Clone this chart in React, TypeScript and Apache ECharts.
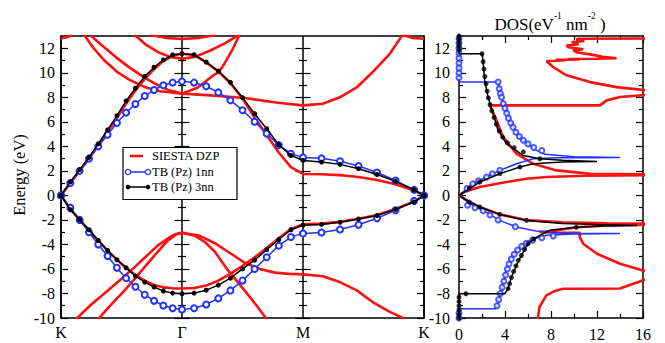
import React, { useEffect, useRef } from "react";
import * as echarts from "echarts";

const FONT = '"Liberation Serif", "DejaVu Serif", serif';
const RED = "#ff1010";
const BLUE = "#2233ff";
const BLACK = "#000000";

// ---- tick labels ----
const kLabels = ["K", "Γ", "M", "K"];
const yMajor = [-10, -8, -6, -4, -2, 0, 2, 4, 6, 8, 10, 12];
const yMinor = [-9, -7, -5, -3, -1, 1, 3, 5, 7, 9, 11];
const dosMajor = [0, 4, 8, 12, 16];
const dosMinor = [2, 6, 10, 14];

// ---- k path sample positions (K=0, Γ=1, M=2, K=3) ----
const kPath = [0, 0.077, 0.154, 0.231, 0.308, 0.385, 0.462, 0.538, 0.615, 0.692, 0.769, 0.846, 0.923, 1,
  1.1, 1.2, 1.3, 1.4, 1.5, 1.6, 1.7, 1.8, 1.9, 2,
  2.153, 2.306, 2.459, 2.612, 2.765, 2.918, 3];

// ---- TB bands (eV) ----
const tb1Up = [0, 1.0, 2.0, 3.0, 4.0, 4.95, 5.9, 6.75, 7.45, 8.1, 8.6, 8.98, 9.2, 9.3,
  9.2, 8.9, 8.4, 7.75, 6.95, 6.0, 5.05, 4.1, 3.4, 3.1,
  3.02, 2.78, 2.4, 1.87, 1.21, 0.45, 0];
const tb1Low = [0, -1.0, -2.0, -3.0, -4.0, -4.95, -5.9, -6.75, -7.45, -8.1, -8.6, -8.98, -9.2, -9.3,
  -9.2, -8.9, -8.4, -7.75, -6.95, -6.0, -5.05, -4.1, -3.4, -3.1,
  -3.02, -2.78, -2.4, -1.87, -1.21, -0.45, 0];
const tb3Up = [0, 1.1, 2.1, 3.1, 4.2, 5.35, 6.5, 7.7, 8.75, 9.7, 10.45, 11.05, 11.45, 11.55,
  11.47, 10.87, 10.14, 9.22, 7.97, 6.66, 5.44, 4.13, 3.26, 2.85,
  2.72, 2.53, 2.18, 1.71, 1.14, 0.46, 0];
const tb3Low = [0, -1.17, -1.98, -2.8, -3.67, -4.49, -5.25, -5.9, -6.58, -7.07, -7.48, -7.8, -7.97, -8.02,
  -7.97, -7.73, -7.32, -6.75, -6.0, -5.28, -4.43, -3.6, -2.8, -2.43,
  -2.37, -2.19, -1.92, -1.64, -1.14, -0.54, 0];

// ---- SIESTA bands ----
const redPiUp = [0, 1.0, 2.0, 3.0, 4.05, 5.15, 6.3, 7.5, 8.55, 9.5, 10.3, 10.95, 11.4, 11.55,
  11.45, 10.85, 10.1, 9.15, 7.9, 6.35, 4.9, 3.5, 2.3, 1.75,
  1.72, 1.65, 1.5, 1.25, 0.9, 0.4, 0];
const redPiLow = [0, -1.1, -2.0, -2.85, -3.7, -4.5, -5.25, -5.9, -6.5, -6.95, -7.3, -7.5, -7.58, -7.6,
  -7.55, -7.35, -6.95, -6.4, -5.75, -5.05, -4.3, -3.5, -2.75, -2.35,
  -2.3, -2.15, -1.9, -1.6, -1.1, -0.5, 0];
const redSigmaA = [[0.124, -10.1], [0.25, -8.9], [0.388, -7.75], [0.5, -6.8], [0.609, -5.85], [0.7, -5.0],
  [0.801, -4.08], [0.9, -3.4], [0.95, -3.15], [1, -3.05], [1.148, -3.3], [1.272, -3.9], [1.396, -4.7],
  [1.519, -5.5], [1.643, -6.0], [1.767, -6.3], [1.891, -6.4], [2, -6.44], [2.164, -6.6], [2.304, -7.07],
  [2.444, -7.75], [2.576, -8.7], [2.717, -9.5], [2.816, -9.95], [2.84, -10.1]];
const redSigmaB = [[0.306, -10.1], [0.42, -8.85], [0.526, -7.75], [0.61, -6.8], [0.691, -5.85], [0.79, -4.7],
  [0.884, -3.67], [0.95, -3.2], [1, -3.05], [1.107, -3.3], [1.189, -3.8], [1.272, -4.6], [1.379, -6.1],
  [1.517, -7.75], [1.61, -8.9], [1.693, -10], [1.7, -10.1]];
const redTopK1 = [[0, 12.8], [0.05, 12.9], [0.09, 13.1]];
const redTopK2 = [[2.82, 13.1], [2.9, 12.85], [3, 12.78]];
const redU1 = [[0.19, 13.1], [0.27, 12.0], [0.36, 11.0], [0.46, 10.1], [0.57, 9.4], [0.69, 8.85], [0.82, 8.5],
  [1, 8.3], [1.239, 8.16], [1.517, 7.94], [1.792, 7.56], [2, 7.34], [2.164, 7.48], [2.304, 8.0],
  [2.444, 8.8], [2.576, 10.06], [2.717, 11.55], [2.824, 13.1]];
const redU2 = [[0.24, 13.1], [0.33, 12.3], [0.45, 11.3], [0.57, 10.4], [0.69, 9.6], [0.8, 9.0], [0.9, 8.55],
  [1, 8.3], [1.131, 8.8], [1.247, 9.7], [1.31, 10.1], [1.354, 10.8], [1.412, 11.8], [1.476, 13.1]];
const redS3 = [[0.608, 13.1], [0.7, 12.3], [0.8, 11.7], [0.9, 11.3], [1, 11.15], [1.107, 11.3], [1.23, 11.8],
  [1.354, 12.4], [1.47, 13.1]];
const redU4 = [[0.735, 13.1], [0.86, 12.85], [1, 12.75], [1.148, 12.85], [1.288, 13.1]];

// ---- DOS curves [DOS, E] ----
const dosSiesta = [[6.85, -10.1], [7.0, -9.1], [7.6, -8.16], [8.3, -7.8], [9.06, -7.62], [14, -7.6], [17, -6.6],
  [17, -6.3], [16, -6.12], [14, -5.57], [12, -4.76], [10.8, -3.94], [10.5, -3.4], [10.5, -3.05], [8.5, -3.03],
  [7.0, -3.0], [8.5, -2.85], [10.2, -2.6], [13, -2.45], [17, -2.38], [17, -2.3], [13, -2.27], [9, -2.2],
  [5.9, -2.02], [3.55, -1.55], [1.8, -0.95], [0.5, -0.3], [0, 0], [0.5, 0.3], [1.8, 0.68], [4.13, 1.09],
  [5.87, 1.36], [7.61, 1.5], [11, 1.6], [17, 1.66], [17, 1.72], [11.4, 1.77], [8.48, 2.04], [6.45, 2.58],
  [5.0, 3.4], [3.84, 4.76], [3.26, 6.12], [2.82, 7.07], [2.67, 7.34], [12.26, 7.34], [12.84, 7.75], [14, 8.02],
  [17, 8.25], [17, 8.5], [13.7, 8.83], [11.4, 9.24], [9.35, 9.79], [8.19, 10.47], [7.61, 10.96], [9.2, 11.0],
  [8.4, 11.05], [10.5, 11.08], [9.5, 11.12], [12, 11.14], [13.7, 11.18], [12.5, 11.3], [11.4, 11.5],
  [10.3, 11.65], [9.93, 11.83], [10.8, 11.92], [9.5, 12.08], [9.35, 12.23], [10.4, 12.33], [9.8, 12.5],
  [10.9, 12.6], [10.2, 12.72], [10.4, 12.78], [16.5, 12.8]];
const dosTb1 = [[0, -10.2], [0, -9.25], [3.2, -9.25], [3.4, -8.6], [3.7, -7.75], [4.1, -6.1], [4.55, -5.0],
  [5.3, -4.2], [6.2, -3.65], [7.6, -3.25], [10, -3.15], [14, -3.1], [10, -3.08], [8.5, -3.05], [6.7, -2.9],
  [5.0, -2.58], [3.55, -2.04], [2.1, -1.22], [0.95, -0.68], [0, 0], [1.22, 0.95], [2.38, 1.5], [3.55, 2.04],
  [5.0, 2.58], [6.45, 2.99], [8.5, 3.06], [11, 3.08], [14, 3.1], [10, 3.15], [7.5, 3.35], [6.74, 3.67],
  [5.57, 4.49], [4.7, 5.57], [4.13, 6.93], [3.69, 8.02], [3.4, 9.24], [0, 9.24], [0, 13.1]];
const dosTb3 = [[0, -10.2], [0, -8.02], [3.98, -8.02], [4.27, -7.61], [4.56, -6.66], [5.0, -5.71], [5.43, -4.89],
  [6.01, -3.94], [6.74, -3.4], [7.9, -2.85], [10.2, -2.6], [12.5, -2.5], [15.5, -2.45], [12, -2.38], [9, -2.3],
  [5.87, -2.04], [3.55, -1.55], [1.8, -0.95], [0.6, -0.35], [0, 0], [0.6, 0.35], [1.8, 1.09], [3.55, 1.77],
  [5.29, 2.31], [6.45, 2.58], [9, 2.72], [12, 2.77], [9, 2.86], [7.03, 2.99], [5.57, 3.26], [4.13, 4.21],
  [3.4, 5.3], [2.96, 6.66], [2.53, 8.02], [2.24, 9.38], [2.04, 11.42], [2.0, 11.55], [0, 11.55], [0, 13.1]];
const dosTb1Marks = [[0, 9.6], [0, 10.0], [0, 10.4], [0, 10.8], [0, 11.2], [0, 11.6], [0, 12.0], [0, 12.4], [0, 12.8],
  [3.4, 9.24], [3.5, 8.7], [3.6, 8.3], [3.7, 8.0], [3.85, 7.5], [4.0, 7.1], [4.15, 6.7], [4.3, 6.3], [4.5, 5.9],
  [4.7, 5.55], [4.95, 5.15], [5.25, 4.8], [5.6, 4.5], [6.0, 4.2], [6.5, 3.9], [7.2, 3.65],
  [0.7, 0.55], [1.2, 0.95], [1.7, 1.2], [2.4, 1.5], [2.9, 1.77], [3.55, 2.04],
  [0.75, -0.8], [1.4, -1.0], [2.1, -1.25], [2.7, -1.6], [3.4, -2.0], [4.9, -2.55],
  [3.3, -9.0], [3.45, -8.5], [3.6, -8.0], [3.75, -7.5], [3.9, -7.0], [4.05, -6.5], [4.2, -6.0], [4.35, -5.6],
  [4.55, -5.2], [4.8, -4.8], [5.1, -4.45], [5.45, -4.15], [5.85, -3.9], [6.4, -3.65], [7.2, -3.45], [8.2, -3.3],
  [0, -9.6], [0, -10.0]];
const dosTb3Marks = [[0, 11.85], [0, 12.15], [0, 12.45], [0, 12.75], [0, 13.0], [2.0, 11.55],
  [2.1, 10.9], [2.17, 10.3], [2.25, 9.7], [2.35, 9.1], [2.45, 8.5], [2.55, 7.95], [2.7, 7.4], [2.85, 6.9],
  [3.05, 6.35], [3.25, 5.8], [3.5, 5.25], [3.8, 4.75], [4.2, 4.3], [4.8, 3.9], [5.6, 3.55], [7.03, 2.99],
  [0.9, 0.6], [1.8, 1.09], [3.55, 1.77], [5.3, 2.31],
  [0.9, -0.55], [1.8, -0.95], [3.55, -1.55], [5.87, -2.04], [10.2, -2.6],
  [4.27, -7.61], [4.4, -7.2], [4.56, -6.7], [4.75, -6.2], [4.95, -5.75], [5.15, -5.3], [5.43, -4.9],
  [5.7, -4.4], [6.01, -3.94], [6.5, -3.55],
  [0, -8.3], [0, -8.65], [0, -9.0], [0, -9.35], [0, -9.7], [0, -10.0], [0.6, -8.02]];

const legendNames = ["SIESTA DZP", "TB (Pz) 1nn", "TB (Pz) 3nn"];

const zipK = (vals: number[]) => vals.map((v, i) => [kPath[i], v]);

function yAxisDef(gridIndex: number, position: string, offset: number, ticks: number[], len: number,
  showLine: boolean, showLabels: boolean) {
  return {
    type: "value", gridIndex, position, offset, min: -10, max: 13,
    axisLine: { show: showLine, onZero: false, lineStyle: { color: BLACK, width: 1.5 } },
    axisTick: { show: true, inside: true, length: len, customValues: ticks, lineStyle: { color: BLACK, width: 1.2 } },
    axisLabel: showLabels
      ? { show: true, customValues: ticks, margin: gridIndex === 0 ? 6 : 9, color: BLACK, fontFamily: FONT, fontSize: 16 }
      : { show: false },
    splitLine: { show: false },
  };
}

function xDosDef(position: string, ticks: number[], len: number, showLine: boolean, showLabels: boolean) {
  return {
    type: "value", gridIndex: 1, position, min: 0, max: 16,
    axisLine: { show: showLine, onZero: false, lineStyle: { color: BLACK, width: 1.5 } },
    axisTick: { show: true, inside: true, length: len, customValues: ticks, lineStyle: { color: BLACK, width: 1.2 } },
    axisLabel: showLabels
      ? { show: true, customValues: ticks, margin: 8, color: BLACK, fontFamily: FONT, fontSize: 16 }
      : { show: false },
    splitLine: { show: false },
  };
}

export default function App() {
  const ref = useRef<HTMLDivElement>(null);
  useEffect(() => {
    document.body.style.margin = "0";
    if (!ref.current) return;
    const chart = echarts.init(ref.current, undefined, { renderer: "svg" });

    const redLine = (data: number[][]) => ({
      type: "line", name: legendNames[0], xAxisIndex: 0, yAxisIndex: 0, data, showSymbol: false, symbol: "none",
      lineStyle: { color: RED, width: 2.6 }, clip: true, silent: true, z: 2,
    });
    const redDos = (data: number[][]) => ({
      type: "line", name: legendNames[0], xAxisIndex: 2, yAxisIndex: 8, data, showSymbol: false, symbol: "none",
      lineStyle: { color: RED, width: 2.6 }, clip: true, silent: true, z: 2,
    });

    const series: any[] = [
      redLine(zipK(redPiUp)), redLine(zipK(redPiLow)), redLine(redSigmaA), redLine(redSigmaB),
      redLine(redTopK1), redLine(redTopK2), redLine(redU1), redLine(redU2), redLine(redS3), redLine(redU4),
      ...[tb1Up, tb1Low].map((vals) => ({
        type: "line", name: legendNames[1], xAxisIndex: 0, yAxisIndex: 0, data: zipK(vals),
        showSymbol: true, symbol: "emptyCircle", symbolSize: 6,
        itemStyle: { color: BLUE, borderWidth: 1.3 }, lineStyle: { color: BLUE, width: 1.5 }, silent: true, z: 3,
      })),
      ...[tb3Up, tb3Low].map((vals) => ({
        type: "line", name: legendNames[2], xAxisIndex: 0, yAxisIndex: 0, data: zipK(vals),
        showSymbol: true, symbol: "circle", symbolSize: 5,
        itemStyle: { color: BLACK }, lineStyle: { color: BLACK, width: 1.5 }, silent: true, z: 4,
      })),
      redDos(dosSiesta),
      {
        type: "line", name: legendNames[1], xAxisIndex: 2, yAxisIndex: 8, data: dosTb1, showSymbol: false,
        symbol: "none", lineStyle: { color: BLUE, width: 1.5 }, clip: true, silent: true, z: 3,
      },
      {
        type: "scatter", name: legendNames[1], xAxisIndex: 2, yAxisIndex: 8, data: dosTb1Marks,
        symbol: "emptyCircle", symbolSize: 5, itemStyle: { color: BLUE, borderWidth: 1.2 }, silent: true, z: 3,
      },
      {
        type: "line", name: legendNames[2], xAxisIndex: 2, yAxisIndex: 8, data: dosTb3, showSymbol: false,
        symbol: "none", lineStyle: { color: BLACK, width: 1.5 }, clip: true, silent: true, z: 4,
      },
      {
        type: "scatter", name: legendNames[2], xAxisIndex: 2, yAxisIndex: 8, data: dosTb3Marks,
        symbol: "circle", symbolSize: 5, itemStyle: { color: BLACK }, silent: true, z: 4,
      },
    ];

    const gL = 61, gW = 363;
    const xG = gL + gW / 3, xM = gL + (2 * gW) / 3;
    const LZ = 200;

    const option: any = {
      animation: false,
      backgroundColor: "#ffffff",
      grid: [
        { left: gL, top: 36, width: gW, height: 282, containLabel: false, outerBoundsMode: "none" },
        { left: 459, top: 36, width: 184, height: 282, containLabel: false, outerBoundsMode: "none" },
      ],
      xAxis: [
        {
          type: "value", gridIndex: 0, position: "bottom", min: 0, max: 3, interval: 1,
          axisLine: { show: true, onZero: false, lineStyle: { color: BLACK, width: 1.5 } },
          axisTick: { show: false },
          axisLabel: {
            show: true, margin: 6, color: BLACK, fontFamily: FONT, fontSize: 16,
            formatter: (v: number) => kLabels[Math.round(v)] ?? "",
          },
          splitLine: { show: true, lineStyle: { color: BLACK, width: 1.5 } },
        },
        {
          type: "value", gridIndex: 0, position: "top", min: 0, max: 3,
          axisLine: { show: true, onZero: false, lineStyle: { color: BLACK, width: 1.5 } },
          axisTick: { show: false }, axisLabel: { show: false }, splitLine: { show: false },
        },
        xDosDef("bottom", dosMajor, 7, true, true),
        xDosDef("bottom", dosMinor, 4, false, false),
        xDosDef("top", dosMajor, 7, true, false),
        xDosDef("top", dosMinor, 4, false, false),
      ],
      yAxis: [
        yAxisDef(0, "left", 0, yMajor, 7, true, true),
        yAxisDef(0, "left", 0, yMinor, 4, false, false),
        yAxisDef(0, "right", 0, yMajor, 7, true, false),
        yAxisDef(0, "right", 0, yMinor, 4, false, false),
        yAxisDef(0, "left", gL - (xG - 7.5), yMajor, 15, false, false),
        yAxisDef(0, "left", gL - (xG - 4), yMinor, 8, false, false),
        yAxisDef(0, "left", gL - (xM - 7.5), yMajor, 15, false, false),
        yAxisDef(0, "left", gL - (xM - 4), yMinor, 8, false, false),
        yAxisDef(1, "left", 0, yMajor, 7, true, true),
        yAxisDef(1, "left", 0, yMinor, 4, false, false),
        yAxisDef(1, "right", 0, yMajor, 7, true, false),
        yAxisDef(1, "right", 0, yMinor, 4, false, false),
      ],
      series,
      graphic: [
        {
          type: "text", x: 19, y: 175, rotation: Math.PI / 2, z: LZ,
          style: { text: "Energy (eV)", fill: BLACK, font: `16.5px ${FONT}`, align: "center", verticalAlign: "middle" },
        },
        {
          type: "text", x: 550, y: 22, z: LZ,
          style: {
            text: "{a|DOS(eV}{b|-1}{a| nm}{b|-2}{a| )}", align: "center", verticalAlign: "middle",
            rich: {
              a: { fontSize: 17, fontFamily: FONT, fill: BLACK, lineHeight: 22, verticalAlign: "bottom" },
              b: { fontSize: 9.5, fontFamily: FONT, fill: BLACK, lineHeight: 22, verticalAlign: "top" },
            },
          },
        },
        { type: "rect", z: LZ, shape: { x: 123, y: 147.5, width: 114, height: 52 }, style: { fill: "#fff", stroke: BLACK, lineWidth: 1.2 } },
        { type: "line", z: LZ + 1, shape: { x1: 130, y1: 156, x2: 143, y2: 156 }, style: { stroke: RED, lineWidth: 2.6 } },
        { type: "text", z: LZ + 1, x: 152, y: 156, style: { text: legendNames[0], fill: BLACK, font: `12.5px ${FONT}`, verticalAlign: "middle" } },
        { type: "line", z: LZ + 1, shape: { x1: 128, y1: 172, x2: 148, y2: 172 }, style: { stroke: BLUE, lineWidth: 1.5 } },
        { type: "circle", z: LZ + 2, shape: { cx: 128, cy: 172, r: 2.6 }, style: { fill: "#fff", stroke: BLUE, lineWidth: 1.3 } },
        { type: "circle", z: LZ + 2, shape: { cx: 148, cy: 172, r: 2.6 }, style: { fill: "#fff", stroke: BLUE, lineWidth: 1.3 } },
        { type: "text", z: LZ + 1, x: 152, y: 172, style: { text: legendNames[1], fill: BLACK, font: `12.5px ${FONT}`, verticalAlign: "middle" } },
        { type: "line", z: LZ + 1, shape: { x1: 128, y1: 187, x2: 148, y2: 187 }, style: { stroke: BLACK, lineWidth: 1.5 } },
        { type: "circle", z: LZ + 2, shape: { cx: 128, cy: 187, r: 2.3 }, style: { fill: BLACK } },
        { type: "circle", z: LZ + 2, shape: { cx: 148, cy: 187, r: 2.3 }, style: { fill: BLACK } },
        { type: "text", z: LZ + 1, x: 152, y: 187, style: { text: legendNames[2], fill: BLACK, font: `12.5px ${FONT}`, verticalAlign: "middle" } },
      ],
    };

    chart.setOption(option);
    return () => chart.dispose();
  }, []);

  return <div ref={ref} style={{ width: 665, height: 343, background: "#fff" }} />;
}
